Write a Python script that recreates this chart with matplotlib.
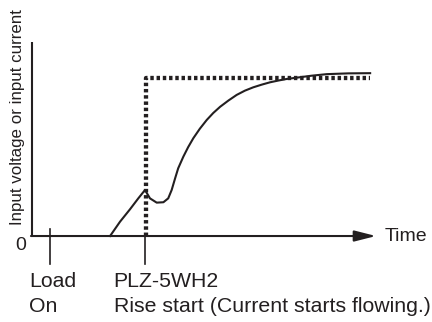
import matplotlib
matplotlib.use('Agg')
from matplotlib import pyplot as plt

plt.rcParams['font.family'] = ['Liberation Sans', 'DejaVu Sans']

INK = '#231f20'

# event times on the time axis (arbitrary units, arrow tip at 100)
t_load_on = 5.2
t_rise = 33.2
t_end = 98.3

# dotted trace: input voltage (step at rise start)
volt_t = [t_rise, t_rise, t_end]
volt_y = [0.0, 0.813, 0.813]

# solid trace: input current
curr_t = [22.7, 25.6, 28.5, 30.9, 32.85, 34.3, 36.25, 38.2, 39.6, 40.6,
          41.6, 42.5, 44.0, 45.4, 46.9, 48.8, 50.8, 52.7, 54.7, 57.1, 59.5,
          61.9, 64.3, 66.8, 69.2, 71.6, 74.0, 77.0, 81.3, 85.7, 92.0, 98.3]
curr_y = [0.0, 0.074, 0.138, 0.194, 0.237, 0.194, 0.172, 0.174, 0.194, 0.237,
          0.297, 0.349, 0.409, 0.458, 0.504, 0.553, 0.598, 0.634, 0.666,
          0.698, 0.727, 0.749, 0.766, 0.780, 0.792, 0.801, 0.809, 0.816,
          0.826, 0.834, 0.838, 0.839]

fig = plt.figure(figsize=(4.32, 3.22), dpi=100)
ax = fig.add_axes([0, 0, 1, 1])
ax.set_xlim(-9.30, 116.28)
ax.set_ylim(-0.443, 1.216)
ax.axis('off')

# axes with arrow on time
ax.plot([0, 0], [0, 1.0], color=INK, lw=1.5, solid_capstyle='butt')
ax.annotate('', xy=(100, 0), xytext=(-0.3, 0),
            arrowprops=dict(arrowstyle='-|>,head_length=1.3,head_width=0.33',
                            mutation_scale=10, lw=1.5, color=INK,
                            shrinkA=0, shrinkB=0))

# event ticks
ax.plot([t_load_on, t_load_on], [0.036, -0.144], color=INK, lw=1.2)
ax.plot([t_rise - 0.3, t_rise - 0.3], [0.0, -0.144], color=INK, lw=1.2)

ax.plot(curr_t, curr_y, color=INK, lw=1.5, solid_joinstyle='round')
ax.plot(volt_t, volt_y, color=INK, lw=3.1, dashes=(0.8, 0.65),
        dash_capstyle='butt')

fs = 15.3
ax.text(-1.6, -0.05, '0', ha='right', va='center', fontsize=14, color=INK)
ax.text(102.5, 0, 'Time', ha='left', va='center', fontsize=14, color=INK)
ax.text(-0.8, -0.235, 'Load', ha='left', va='center', fontsize=fs, color=INK)
ax.text(-0.8, -0.365, 'On', ha='left', va='center', fontsize=fs, color=INK)
ax.text(23.7, -0.235, 'PLZ-5WH2', ha='left', va='center', fontsize=fs, color=INK)
ax.text(23.7, -0.365, 'Rise start (Current starts flowing.)', ha='left',
        va='center', fontsize=fs, color=INK)
ax.text(-4.3, 0.615, 'Input voltage or input current', rotation=90,
        ha='center', va='center', fontsize=12.2, color=INK)

fig.savefig('out.png', dpi=100)
